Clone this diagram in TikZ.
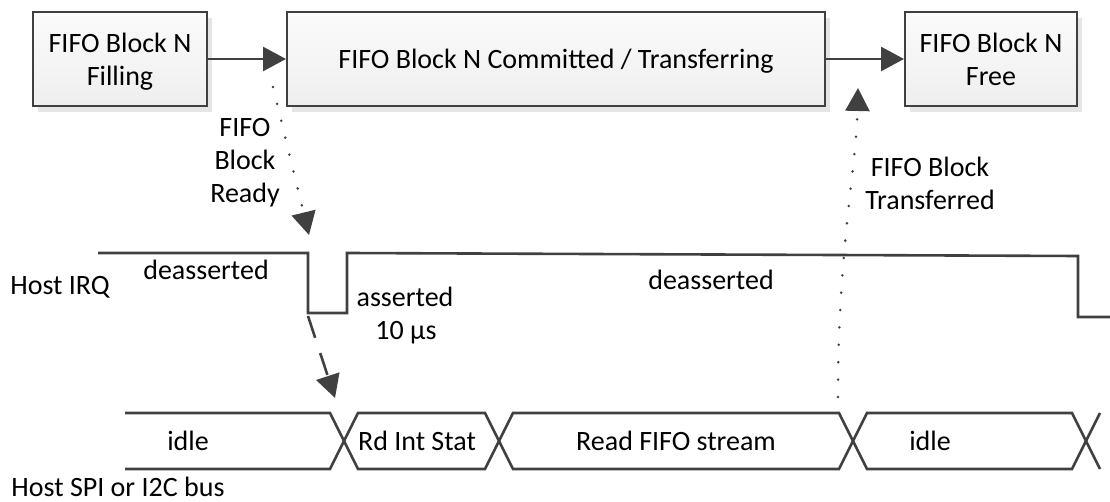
\documentclass[tikz,border=0pt]{standalone}
\usepackage{fontspec}
\setmainfont{Carlito}
\usetikzlibrary{arrows.meta,shadows}

\begin{document}
\begin{tikzpicture}[x=0.5pt,y=-0.5pt,
    font=\fontsize{14pt}{16.5pt}\selectfont,
    stage/.style={draw=black!75,line width=1pt,top color=gray!3,bottom color=gray!13,
      drop shadow={shadow xshift=2.5pt,shadow yshift=-3pt,fill=gray!40,opacity=0.5},
      minimum height=47pt,inner sep=0pt,text depth=0pt,align=center},
    flow/.style={draw=black!75,line width=1.3pt,-{Triangle[length=11.5pt,width=12pt]}},
    dots/.style={flow,line width=1.4pt,line cap=round,dash pattern=on 0pt off 8.7pt},
    wave/.style={draw=black!75,line width=1.3pt,line join=miter}]
  \useasboundingbox (0,0) rectangle (1110,502);

  \node[stage,minimum width=87pt]  (filling)  at (120,59) {FIFO Block N\\Filling};
  \node[stage,minimum width=269pt] (committed) at (556,59) {FIFO Block N Committed / Transferring};
  \node[stage,minimum width=86pt]  (free)     at (991,59) {FIFO Block N\\Free};

  \draw[flow] (filling) -- (committed);
  \draw[flow] (committed) -- (free);

  \coordinate (R0) at (273,87);
  \coordinate (R1) at (309,235);
  \draw[dots] (R0) -- (R1);
  \node[align=center] (ready) at (245,163) {FIFO\\Block\\Ready};

  \coordinate (T0) at (838,397);
  \coordinate (T1) at (858,88);
  \draw[dots] (T0) .. controls (838,250) and (856,170) .. (T1);
  \node[align=center] (transferred) at (930,183) {FIFO Block\\Transferred};

  \node[anchor=base] (irq) at (60,295) {Host IRQ};
  \draw[wave] (98,253) -- (308,253) -- (308,313) -- (347,313) -- (347,253)
    -- (1078,256) -- (1078,317) -- (1110,317);
  \node[anchor=base] (deas1) at (206,280) {deasserted};
  \node[anchor=base] (asrt)  at (405,307) {asserted};
  \node[anchor=base] (width) at (406,340) {10 µs};
  \node[anchor=base] (deas2) at (711,290) {deasserted};

  \coordinate (D0) at (308,316);
  \coordinate (D1) at (335,398);
  \draw[flow,dash pattern=on 11.5pt off 8pt] (D0) -- (D1);

  \draw[wave] (125,413) -- (330,413) -- (358,469) -- (485,469) -- (513,413)
    -- (839,413) -- (867,469) -- (1072,469) -- (1100,413);
  \draw[wave] (125,469) -- (330,469) -- (358,413) -- (485,413) -- (513,469)
    -- (839,469) -- (867,413) -- (1072,413) -- (1100,469);
  \node[anchor=base] (idle1)  at (188,451) {idle};
  \node[anchor=base] (rdint)  at (417,451) {Rd Int Stat};
  \node[anchor=base] (stream) at (676,451) {Read FIFO stream};
  \node[anchor=base] (idle2)  at (930,451) {idle};
  \node[anchor=base] (bus)    at (118,497) {Host SPI or I2C bus};
\end{tikzpicture}
\end{document}
